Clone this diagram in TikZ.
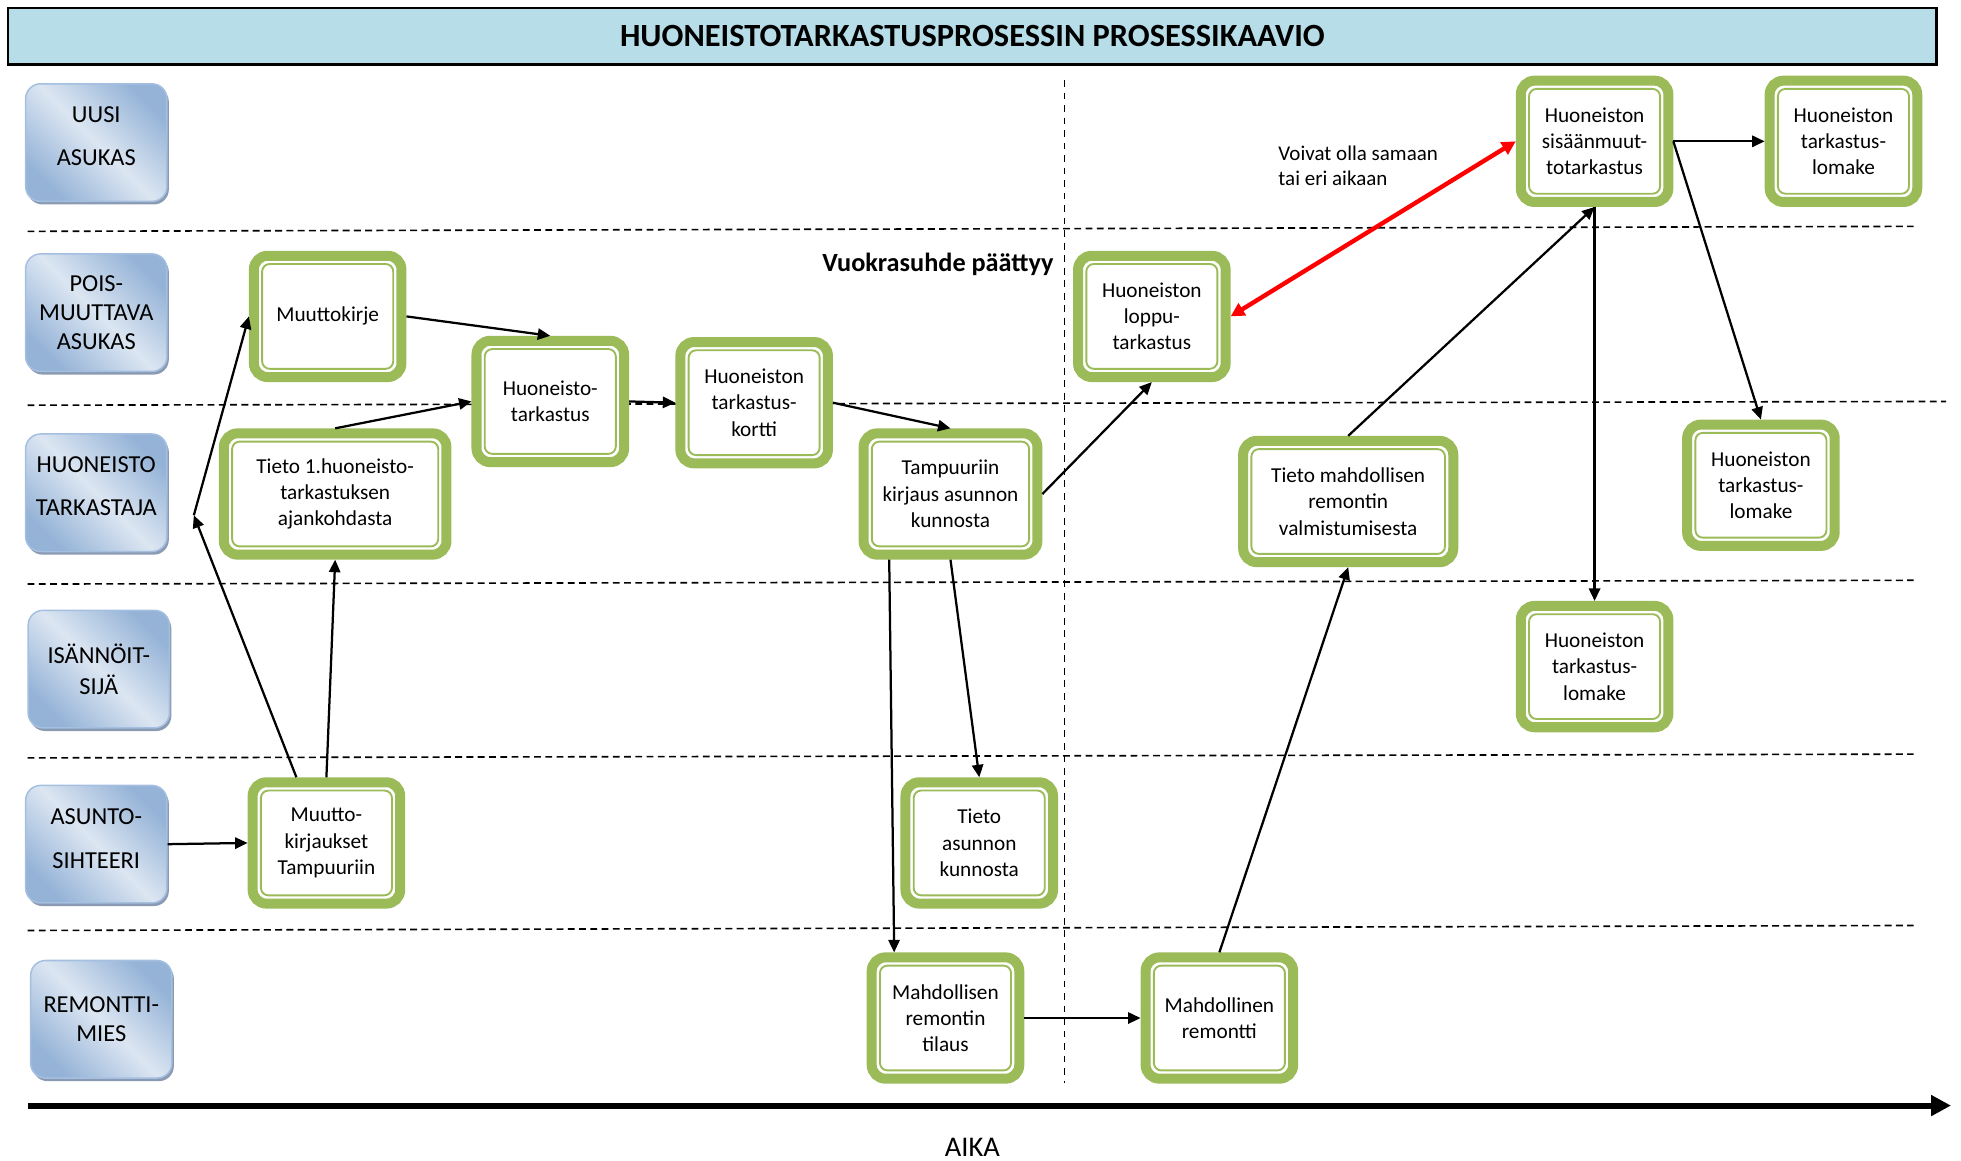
\documentclass[tikz,border=0pt]{standalone}
\usepackage{fontspec}
\setmainfont{Carlito}
\usetikzlibrary{arrows.meta,shadows}

\definecolor{boxgreen}{HTML}{9BBB59}
\definecolor{titleblue}{HTML}{B7DDE8}
\definecolor{lanedark}{HTML}{95B3D7}
\definecolor{lanelight}{HTML}{DCE6F2}
\definecolor{laneedge}{HTML}{A5BFE0}
\definecolor{laneshadow}{HTML}{8A9AB2}

% extra depth that lifts a label's text block
\newcommand{\liftby}[1]{\rule[-#1]{0pt}{0pt}}

\begin{document}
\begin{tikzpicture}[x=1pt,y=-1pt,
  every node/.style={font=\fontsize{17}{21}\selectfont},
  lane/.style={draw=laneedge, line width=1.2pt, rounded corners=12pt,
    top color=lanedark, bottom color=lanedark, middle color=lanelight,
    shading angle=-45, minimum width=113pt, minimum height=94pt,
    inner sep=0pt, align=center, font=\fontsize{19.5}{23.5}\selectfont,
    drop shadow={shadow xshift=1.5pt, shadow yshift=-2.5pt,
      fill=laneshadow, opacity=1}},
  gbox/.style={draw=boxgreen, line width=8pt, rounded corners=11pt,
    fill=white, inner sep=0pt, align=center,
    minimum width=118pt, minimum height=97pt,
    path picture={\draw[boxgreen, line width=1.5pt, rounded corners=6pt]
      ([shift={(6.6pt,-6.6pt)}]path picture bounding box.north west) rectangle
      ([shift={(-6.6pt,6.6pt)}]path picture bounding box.south east);}},
  flow/.style={draw=black, line width=1.8pt,
    -{Triangle[length=10pt,width=9pt]}},
  both/.style={draw=red, line width=3.5pt,
    {Triangle[length=11pt,width=11pt]}-{Triangle[length=11pt,width=11pt]}},
  lanesep/.style={draw=black, line width=1.3pt, dash pattern=on 5.5pt off 3.5pt},
  phasesep/.style={draw=black, line width=1.2pt, dash pattern=on 5.5pt off 4.5pt},
]
\useasboundingbox (0,0) rectangle (1568,928);

% title bar
\node[draw=black, line width=2pt, fill=titleblue, minimum width=1542pt,
  minimum height=45pt, inner sep=0pt,
  font=\fontsize{25.9}{30}\selectfont\bfseries] (title) at (777.5,29)
  {HUONEISTOTARKASTUSPROSESSIN PROSESSIKAAVIO};

% swimlane separators and the end of the lease
\draw[lanesep] (22,185) -- (1530,181);
\draw[lanesep] (22,324) -- (1556,321);
\draw[lanesep] (22,467) -- (1530,464);
\draw[lanesep] (22,606) -- (1530,603);
\draw[lanesep] (22,744) -- (1530,740);
\draw[phasesep] (851,64) -- (851,866);

% time axis
\draw[line width=4.8pt, -{Triangle[length=16pt,width=16pt]}] (22,884) -- (1560,884);
\node[font=\fontsize{22.8}{26}\selectfont] (aika) at (777.5,917.5) {AIKA};

% role labels
\node[lane] (l1) at (77,114) {UUSI\\[11pt]ASUKAS\liftby{10pt}};
\node[lane] (l2) at (77,250) {POIS-\\MUUTTAVA\\ASUKAS};
\node[lane] (l3) at (77,394) {HUONEISTO\\[11pt]TARKASTAJA\liftby{10pt}};
\node[lane] (l4) at (79,535) {ISÄNNÖIT-\\[1.5pt]SIJÄ};
\node[lane] (l5) at (77,675) {ASUNTO-\\[12pt]SIHTEERI\liftby{9pt}};
\node[lane] (l6) at (81,815) {REMONTTI-\\MIES};

% process steps
\node[gbox] (n1) at (262,253) {Muuttokirje};
\node[gbox] (n2) at (440,321) {Huoneisto-\\tarkastus};
\node[gbox] (n3) at (603,322) {Huoneiston\\tarkastus-\\kortti};
\node[gbox, minimum width=178pt] (n4) at (268,395) {Tieto 1.huoneisto-\\tarkastuksen\\ajankohdasta};
\node[gbox, minimum width=139pt] (n5) at (760,395) {Tampuuriin\\kirjaus asunnon\\kunnosta};
\node[gbox] (n6) at (921,253) {Huoneiston\\loppu-\\tarkastus};
\node[gbox] (n7) at (1275,113) {Huoneiston\\sisäänmuut-\\totarkastus};
\node[gbox] (n8) at (1474,113) {Huoneiston\\tarkastus-\\lomake};
\node[gbox] (n9) at (1408,388) {Huoneiston\\tarkastus-\\lomake};
\node[gbox, minimum width=168pt] (n10) at (1078,401) {Tieto mahdollisen\\remontin\\valmistumisesta};
\node[gbox] (n11) at (1275,533) {Huoneiston\\tarkastus-\\lomake};
\node[gbox] (n12) at (261,674) {Muutto-\\kirjaukset\\Tampuuriin};
\node[gbox] (n13) at (783,674) {Tieto\\asunnon\\kunnosta};
\node[gbox] (n14) at (756,814) {Mahdollisen\\remontin\\tilaus};
\node[gbox] (n15) at (975,814) {Mahdollinen\\remontti};

% annotations
\node[anchor=east, font=\fontsize{21}{25}\selectfont\bfseries] (end) at (846,211)
  {Vuokrasuhde päättyy};
\node[anchor=base west, align=left, inner sep=0pt,
  font=\fontsize{16.8}{20}\selectfont] (same) at (1022,148)
  {Voivat olla samaan\\tai eri aikaan};

% connectors
\coordinate (kink) at (155,412);
\draw[flow] ([xshift=-24pt]n12.north) -- (kink);
\draw[flow] (kink) -- (n1.west);
\draw[flow] (n12.north) -- (n4.south);
\draw[flow] (n4.north) -- (n2.west);
\draw[flow] (n1.east) -- (n2.north);
\draw[flow] (n2.east) -- (n3.west);
\draw[flow] (n3.east) -- (n5.north);
\draw[flow] (n5.east) -- (n6.south);
\draw[flow] ([xshift=-49pt]n5.south) -- ([xshift=-41pt]n14.north);
\draw[flow] (n5.south) -- (n13.north);
\draw[flow] (n14.east) -- (n15.west);
\draw[flow] (n15.north) -- (n10.south);
\draw[flow] (n10.north) -- (n7.south);
\draw[flow] (n7.south) -- (n11.north);
\draw[flow] (n7.east) -- (n8.west);
\draw[flow] (n7.east) -- (n9.north);
\draw[flow] (l5.east) -- (n12.west);
\draw[both] (n6.east) -- (n7.west);
\end{tikzpicture}
\end{document}
